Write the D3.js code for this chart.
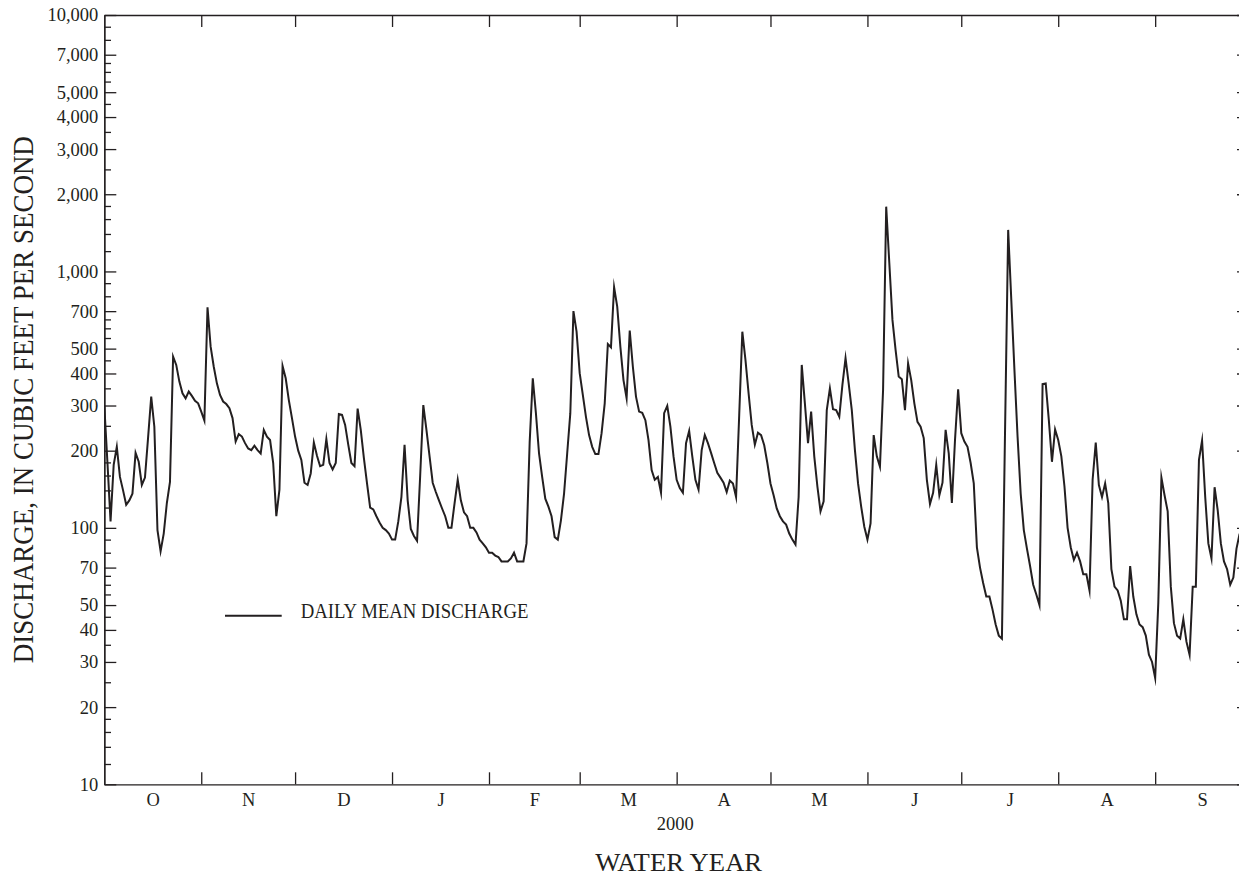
<!DOCTYPE html>
<html><head><meta charset="utf-8">
<script src="https://cdn.jsdelivr.net/npm/d3@7"></script>
<style>
html,body{margin:0;padding:0;background:#fff;overflow:hidden}
svg{display:block}
</style></head><body>
<svg id="chart" width="1239" height="877"></svg>
<script>
// ---- data (daily mean discharge, water year 2000, cfs) ----
const monthLabels  = ["O","N","D","J","F","M","A","M","J","J","A","S"];
const monthLengths = [31,30,31,31,29,31,30,31,30,31,31,30];
const yearLabel = "2000";
const yMajorTicks = [10,20,30,40,50,70,100,200,300,400,500,700,1000,2000,3000,4000,5000,7000,10000];
const yMinorTicks = [12,14,16,18,25,35,45,55,60,65,80,90,
                     120,140,160,180,250,350,450,550,600,650,800,900,
                     1200,1400,1600,1800,2500,3500,4500,5500,6000,6500,8000,9000];

const oct = [300,180,106,176,207,158,140,123,128,136,196,181,147,157,225,325,248,98,81,95,125,151,465,432,372,335,320,340,327,313,306];
const nov = [284,262,725,509,425,366,330,311,304,293,268,217,232,227,214,204,201,209,201,195,241,227,220,179,111,141,428,383,315,268];
const dec = [227,200,184,150,147,163,215,191,174,176,222,179,169,179,278,276,252,211,179,174,292,241,187,149,120,118,111,105,100,98,95];
const jan = [90,90,106,132,211,128,99,93,89,160,301,241,190,150,138,128,119,111,100,100,125,154,128,115,111,100,100,96,90,87,84];
const feb = [80,80,78,77,74,74,74,76,80,74,74,74,87,215,383,280,195,158,130,121,111,92,90,107,136,195,280,700,582];
const mar = [401,330,271,230,207,194,194,234,306,521,506,868,729,509,377,320,588,425,325,284,281,263,220,168,154,158,137,280,299,248,190];
const apr = [154,143,137,214,239,190,154,141,201,230,214,196,179,164,157,150,138,153,149,132,275,582,452,335,252,211,235,230,210,179];
const may = [149,134,119,111,106,103,95,90,86,132,432,306,214,284,190,145,116,127,288,350,290,288,271,361,459,366,288,201,149,121,101];
const jun = [90,104,230,190,173,345,1789,1076,647,494,389,380,288,438,377,306,259,248,224,154,124,137,176,134,150,241,195,125,220,347];
const jul = [234,217,207,179,149,84,70,61,54,54,48,42,38,37,240,1452,774,413,227,136,98,83,71,60,55,50,364,366,263,181,242];
const aug = [220,190,145,100,84,75,80,74,66,66,57,154,215,147,132,149,125,69,59,57,52,44,44,71,54,46,42,41,38,32,30];
const sep = [26,51,157,134,116,59,42.5,38,37,44,36,32,59,59,184,219,132,87,76,144,117,87,74,69,60,64,83,95];

// ---- layout ----
const L = 104.3, R = 1249, T = 15, B = 784.3;
const ink = "#231f20";
const serif = "'Liberation Serif','Times New Roman',Times,serif";

const daily = [].concat(oct,nov,dec,jan,feb,mar,apr,may,jun,jul,aug,sep);
const totalDays = d3.sum(monthLengths);
const monthStarts = d3.cumsum([0].concat(monthLengths.slice(0,-1)));
const monthMids = monthStarts.map((s,i)=> s + monthLengths[i]/2);

const x = d3.scaleLinear().domain([0,totalDays]).range([L,R]);
const y = d3.scaleLog().domain([10,10000]).range([B,T]);

const svg = d3.select("#chart");
svg.append("rect").attr("width",1239).attr("height",877).attr("fill","#fff");

function styleAxis(g){
  g.selectAll("path,line").attr("stroke",ink).attr("stroke-width",1.3);
  g.selectAll("text").attr("fill",ink).attr("font-family",serif).attr("font-size",18.5);
  return g;
}

// y axes
svg.append("g").attr("transform",`translate(${L},0)`)
  .call(d3.axisLeft(y).tickValues(yMinorTicks).tickSize(-6.7).tickSizeOuter(0).tickFormat(""))
  .call(styleAxis);
svg.append("g").attr("transform",`translate(${L},0)`)
  .call(d3.axisLeft(y).tickValues(yMajorTicks).tickSize(-12).tickSizeOuter(0).tickPadding(6)
        .tickFormat(d3.format(",")))
  .call(styleAxis);
svg.append("g").attr("transform",`translate(${R},0)`)
  .call(d3.axisRight(y).tickValues(yMinorTicks).tickSize(-6.7).tickSizeOuter(0).tickFormat(""))
  .call(styleAxis);
svg.append("g").attr("transform",`translate(${R},0)`)
  .call(d3.axisRight(y).tickValues(yMajorTicks).tickSize(-12).tickSizeOuter(0).tickFormat(""))
  .call(styleAxis);

// x axes (month boundaries)
svg.append("g").attr("transform",`translate(0,${B})`)
  .call(d3.axisBottom(x).tickValues(monthStarts.slice(1)).tickSize(-12).tickSizeOuter(0).tickFormat(""))
  .call(styleAxis);
svg.append("g").attr("transform",`translate(0,${T})`)
  .call(d3.axisTop(x).tickValues(monthStarts.slice(1)).tickSize(-12).tickSizeOuter(0).tickFormat(""))
  .call(styleAxis);
// month labels
const ml = svg.append("g").attr("transform",`translate(0,${B})`)
  .call(d3.axisBottom(x).tickValues(monthMids).tickSize(0).tickPadding(8.3)
        .tickFormat((d,i)=>monthLabels[i]))
  .call(styleAxis);
ml.select(".domain").remove();

// data line
svg.append("clipPath").attr("id","plotclip").append("rect")
  .attr("x",L).attr("y",T).attr("width",R-L).attr("height",B-T);
const line = d3.line().x((d,i)=>x(i)).y(d=>y(d));
svg.append("path").datum(daily)
  .attr("clip-path","url(#plotclip)")
  .attr("fill","none").attr("stroke",ink).attr("stroke-width",2)
  .attr("stroke-linejoin","miter").attr("stroke-miterlimit",10)
  .attr("d",line);

// legend
svg.append("line").attr("x1",225).attr("x2",281.7).attr("y1",615.7).attr("y2",615.7)
  .attr("stroke",ink).attr("stroke-width",2);
svg.append("text").attr("x",300.7).attr("y",618.3)
  .attr("font-family",serif).attr("font-size",20).attr("fill",ink)
  .attr("textLength",227.7).attr("lengthAdjust","spacingAndGlyphs")
  .text("DAILY MEAN DISCHARGE");

// titles
svg.append("text").attr("x",x(183)-1.5).attr("y",830)
  .attr("text-anchor","middle").attr("font-family",serif).attr("font-size",18.5).attr("fill",ink)
  .text(yearLabel);
svg.append("text").attr("x",x(183)+2).attr("y",870.5)
  .attr("text-anchor","middle").attr("font-family",serif).attr("font-size",25).attr("fill",ink)
  .attr("textLength",167).attr("lengthAdjust","spacingAndGlyphs")
  .text("WATER YEAR");
svg.append("text")
  .attr("transform",`translate(33.3,${(T+B)/2}) rotate(-90)`)
  .attr("text-anchor","middle").attr("font-family",serif).attr("font-size",30).attr("fill",ink)
  .attr("textLength",527).attr("lengthAdjust","spacingAndGlyphs")
  .text("DISCHARGE, IN CUBIC FEET PER SECOND");
</script>
</body></html>
